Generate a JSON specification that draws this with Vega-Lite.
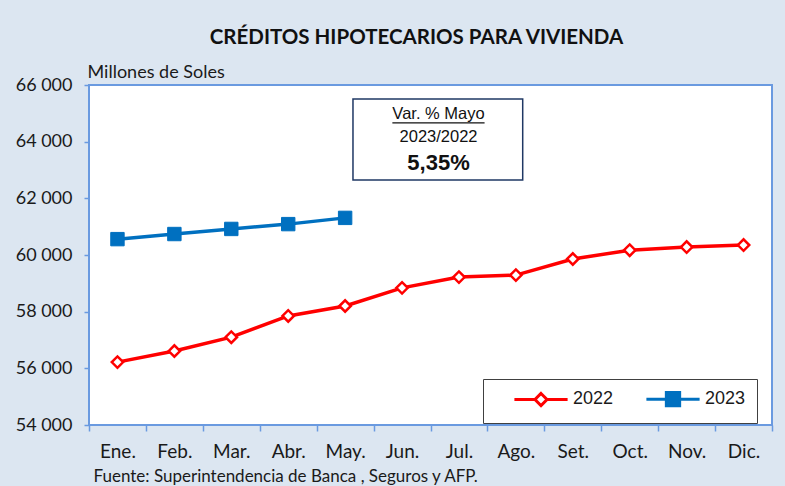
{
  "$schema": "https://vega.github.io/schema/vega-lite/v6.json",
  "width": 683,
  "height": 340,
  "autosize": {"type": "none"},
  "padding": {"left": 89, "top": 85, "right": 13, "bottom": 61},
  "background": "#dce6f1",
  "config": {
    "locale": {"number": {"decimal": ",", "thousands": " ", "grouping": [3], "currency": ["", ""]}},
    "view": {"fill": "white", "stroke": "#6a9ae0", "strokeWidth": 2}
  },
  "title": {
    "text": "CRÉDITOS HIPOTECARIOS PARA VIVIENDA",
    "font": "Lato",
    "fontSize": 20.5,
    "fontWeight": "bold",
    "color": "#111111",
    "anchor": "middle",
    "frame": "group",
    "baseline": "alphabetic",
    "offset": 14,
    "dy": 15,
    "dx": -14
  },
  "datasets": {
    "credits": [
      {"month": "Ene.", "year": "2022", "value": 56220},
      {"month": "Feb.", "year": "2022", "value": 56610},
      {"month": "Mar.", "year": "2022", "value": 57100},
      {"month": "Abr.", "year": "2022", "value": 57850},
      {"month": "May.", "year": "2022", "value": 58200},
      {"month": "Jun.", "year": "2022", "value": 58840},
      {"month": "Jul.", "year": "2022", "value": 59220},
      {"month": "Ago.", "year": "2022", "value": 59290},
      {"month": "Set.", "year": "2022", "value": 59860},
      {"month": "Oct.", "year": "2022", "value": 60170},
      {"month": "Nov.", "year": "2022", "value": 60280},
      {"month": "Dic.", "year": "2022", "value": 60350},
      {"month": "Ene.", "year": "2023", "value": 60560},
      {"month": "Feb.", "year": "2023", "value": 60740},
      {"month": "Mar.", "year": "2023", "value": 60920},
      {"month": "Abr.", "year": "2023", "value": 61090},
      {"month": "May.", "year": "2023", "value": 61310}
    ]
  },
  "layer": [
    {
      "data": {"name": "credits"},
      "encoding": {
        "x": {
          "field": "month",
          "type": "ordinal",
          "bandPosition": 0.5,
          "sort": ["Ene.", "Feb.", "Mar.", "Abr.", "May.", "Jun.", "Jul.", "Ago.", "Set.", "Oct.", "Nov.", "Dic."],
          "scale": {"type": "band", "paddingInner": 0, "paddingOuter": 0},
          "axis": {
            "labelAngle": 0,
            "tickBand": "extent",
            "tickSize": 6,
            "tickColor": "#6a9ae0",
            "tickWidth": 1.5,
            "domain": false,
            "labelFont": "Lato",
            "labelFontSize": 19,
            "labelColor": "#1a1a1a",
            "labelPadding": 11,
            "title": "Fuente: Superintendencia de Banca , Seguros y AFP.",
            "titleFont": "Lato",
            "titleFontSize": 17,
            "titleFontWeight": "normal",
            "titleColor": "#1a1a1a",
            "titleAnchor": "start",
            "titleAlign": "left",
            "titleBaseline": "alphabetic",
            "titleX": 4,
            "titleY": 56
          }
        },
        "y": {
          "field": "value",
          "type": "quantitative",
          "scale": {"domain": [54000, 66000], "nice": false, "zero": false},
          "axis": {
            "values": [54000, 56000, 58000, 60000, 62000, 64000, 66000],
            "format": ",d",
            "grid": false,
            "domain": false,
            "tickSize": 5,
            "tickColor": "#6a9ae0",
            "tickWidth": 1.5,
            "labelFont": "Lato",
            "labelFontSize": 18,
            "labelColor": "#1a1a1a",
            "labelPadding": 12,
            "title": "Millones de Soles",
            "titleAngle": 0,
            "titleAlign": "left",
            "titleBaseline": "alphabetic",
            "titleX": -2,
            "titleY": -8,
            "titleFont": "Lato",
            "titleFontSize": 18,
            "titleFontWeight": "normal",
            "titleColor": "#1a1a1a"
          }
        }
      },
      "layer": [
        {
          "mark": {"type": "line", "strokeWidth": 3.5},
          "encoding": {
            "color": {
              "field": "year",
              "type": "nominal",
              "scale": {"domain": ["2022", "2023"], "range": ["#ff0000", "#0070c0"]},
              "legend": {
                "orient": "none",
                "legendX": 394,
                "legendY": 294,
                "direction": "horizontal",
                "title": null,
                "fillColor": "white",
                "strokeColor": "#404040",
                "padding": 11,
                "symbolSize": 196,
                "symbolStrokeWidth": 3,
                "labelFont": "Liberation Sans",
                "labelFontSize": 18,
                "labelColor": "#1a1a1a",
                "labelOffset": 23,
                "symbolOffset": 38,
                "columnPadding": 12,
                "encode": {
                  "symbols": {
                    "update": {
                      "shape": {"signal": "datum.value === '2022' ? 'M-3.8,0H-0.86M0.86,0H3.8M0,-0.86L0.86,0L0,0.86L-0.86,0Z' : 'M-3.8,0H3.8M-0.95,-0.95H0.95V0.95H-0.95Z'"},
                      "fill": {"signal": "datum.value === '2022' ? 'white' : '#0070c0'"},
                      "fillOpacity": {"value": 1},
                      "opacity": {"value": 1}
                    }
                  }
                }
              }
            }
          }
        },
        {
          "transform": [{"filter": "datum.year === '2022'"}],
          "mark": {"type": "point", "shape": "diamond", "filled": true, "fill": "white", "stroke": "#ff0000", "strokeWidth": 2.5, "size": 130, "opacity": 1}
        },
        {
          "transform": [{"filter": "datum.year === '2023'"}],
          "mark": {"type": "point", "shape": "square", "filled": true, "fill": "#0070c0", "stroke": "#0070c0", "strokeWidth": 1, "size": 180, "opacity": 1}
        }
      ]
    },
    {
      "data": {"values": [{}]},
      "encoding": {},
      "layer": [
        {
          "mark": {"type": "rect", "fill": "white", "stroke": "#1f3864", "strokeWidth": 1.5},
          "encoding": {
            "x": {"datum": 4.638, "type": "quantitative", "scale": {"domain": [0, 12], "nice": false, "zero": false}, "axis": null},
            "x2": {"datum": 7.62},
            "y": {"datum": 65506, "type": "quantitative", "scale": {"domain": [54000, 66000], "nice": false, "zero": false}, "axis": null},
            "y2": {"datum": 62647}
          }
        },
        {
          "mark": {"type": "rule", "stroke": "#111111", "strokeWidth": 1.3},
          "encoding": {
            "x": {"datum": 5.33, "type": "quantitative"},
            "x2": {"datum": 6.95},
            "y": {"datum": 64660, "type": "quantitative"}
          }
        },
        {
          "mark": {"type": "text", "text": "Var. % Mayo", "font": "Liberation Sans", "fontSize": 16.5, "color": "#111111", "align": "center", "baseline": "alphabetic"},
          "encoding": {
            "x": {"datum": 6.141, "type": "quantitative"},
            "y": {"datum": 64800, "type": "quantitative"}
          }
        },
        {
          "mark": {"type": "text", "text": "2023/2022", "font": "Liberation Sans", "fontSize": 16.5, "color": "#111111", "align": "center", "baseline": "alphabetic"},
          "encoding": {
            "x": {"datum": 6.141, "type": "quantitative"},
            "y": {"datum": 63988, "type": "quantitative"}
          }
        },
        {
          "mark": {"type": "text", "text": "5,35%", "font": "Liberation Sans", "fontSize": 22, "fontWeight": "bold", "color": "#111111", "align": "center", "baseline": "alphabetic"},
          "encoding": {
            "x": {"datum": 6.141, "type": "quantitative"},
            "y": {"datum": 63000, "type": "quantitative"}
          }
        }
      ]
    }
  ],
  "resolve": {"scale": {"x": "independent", "y": "independent"}}
}
